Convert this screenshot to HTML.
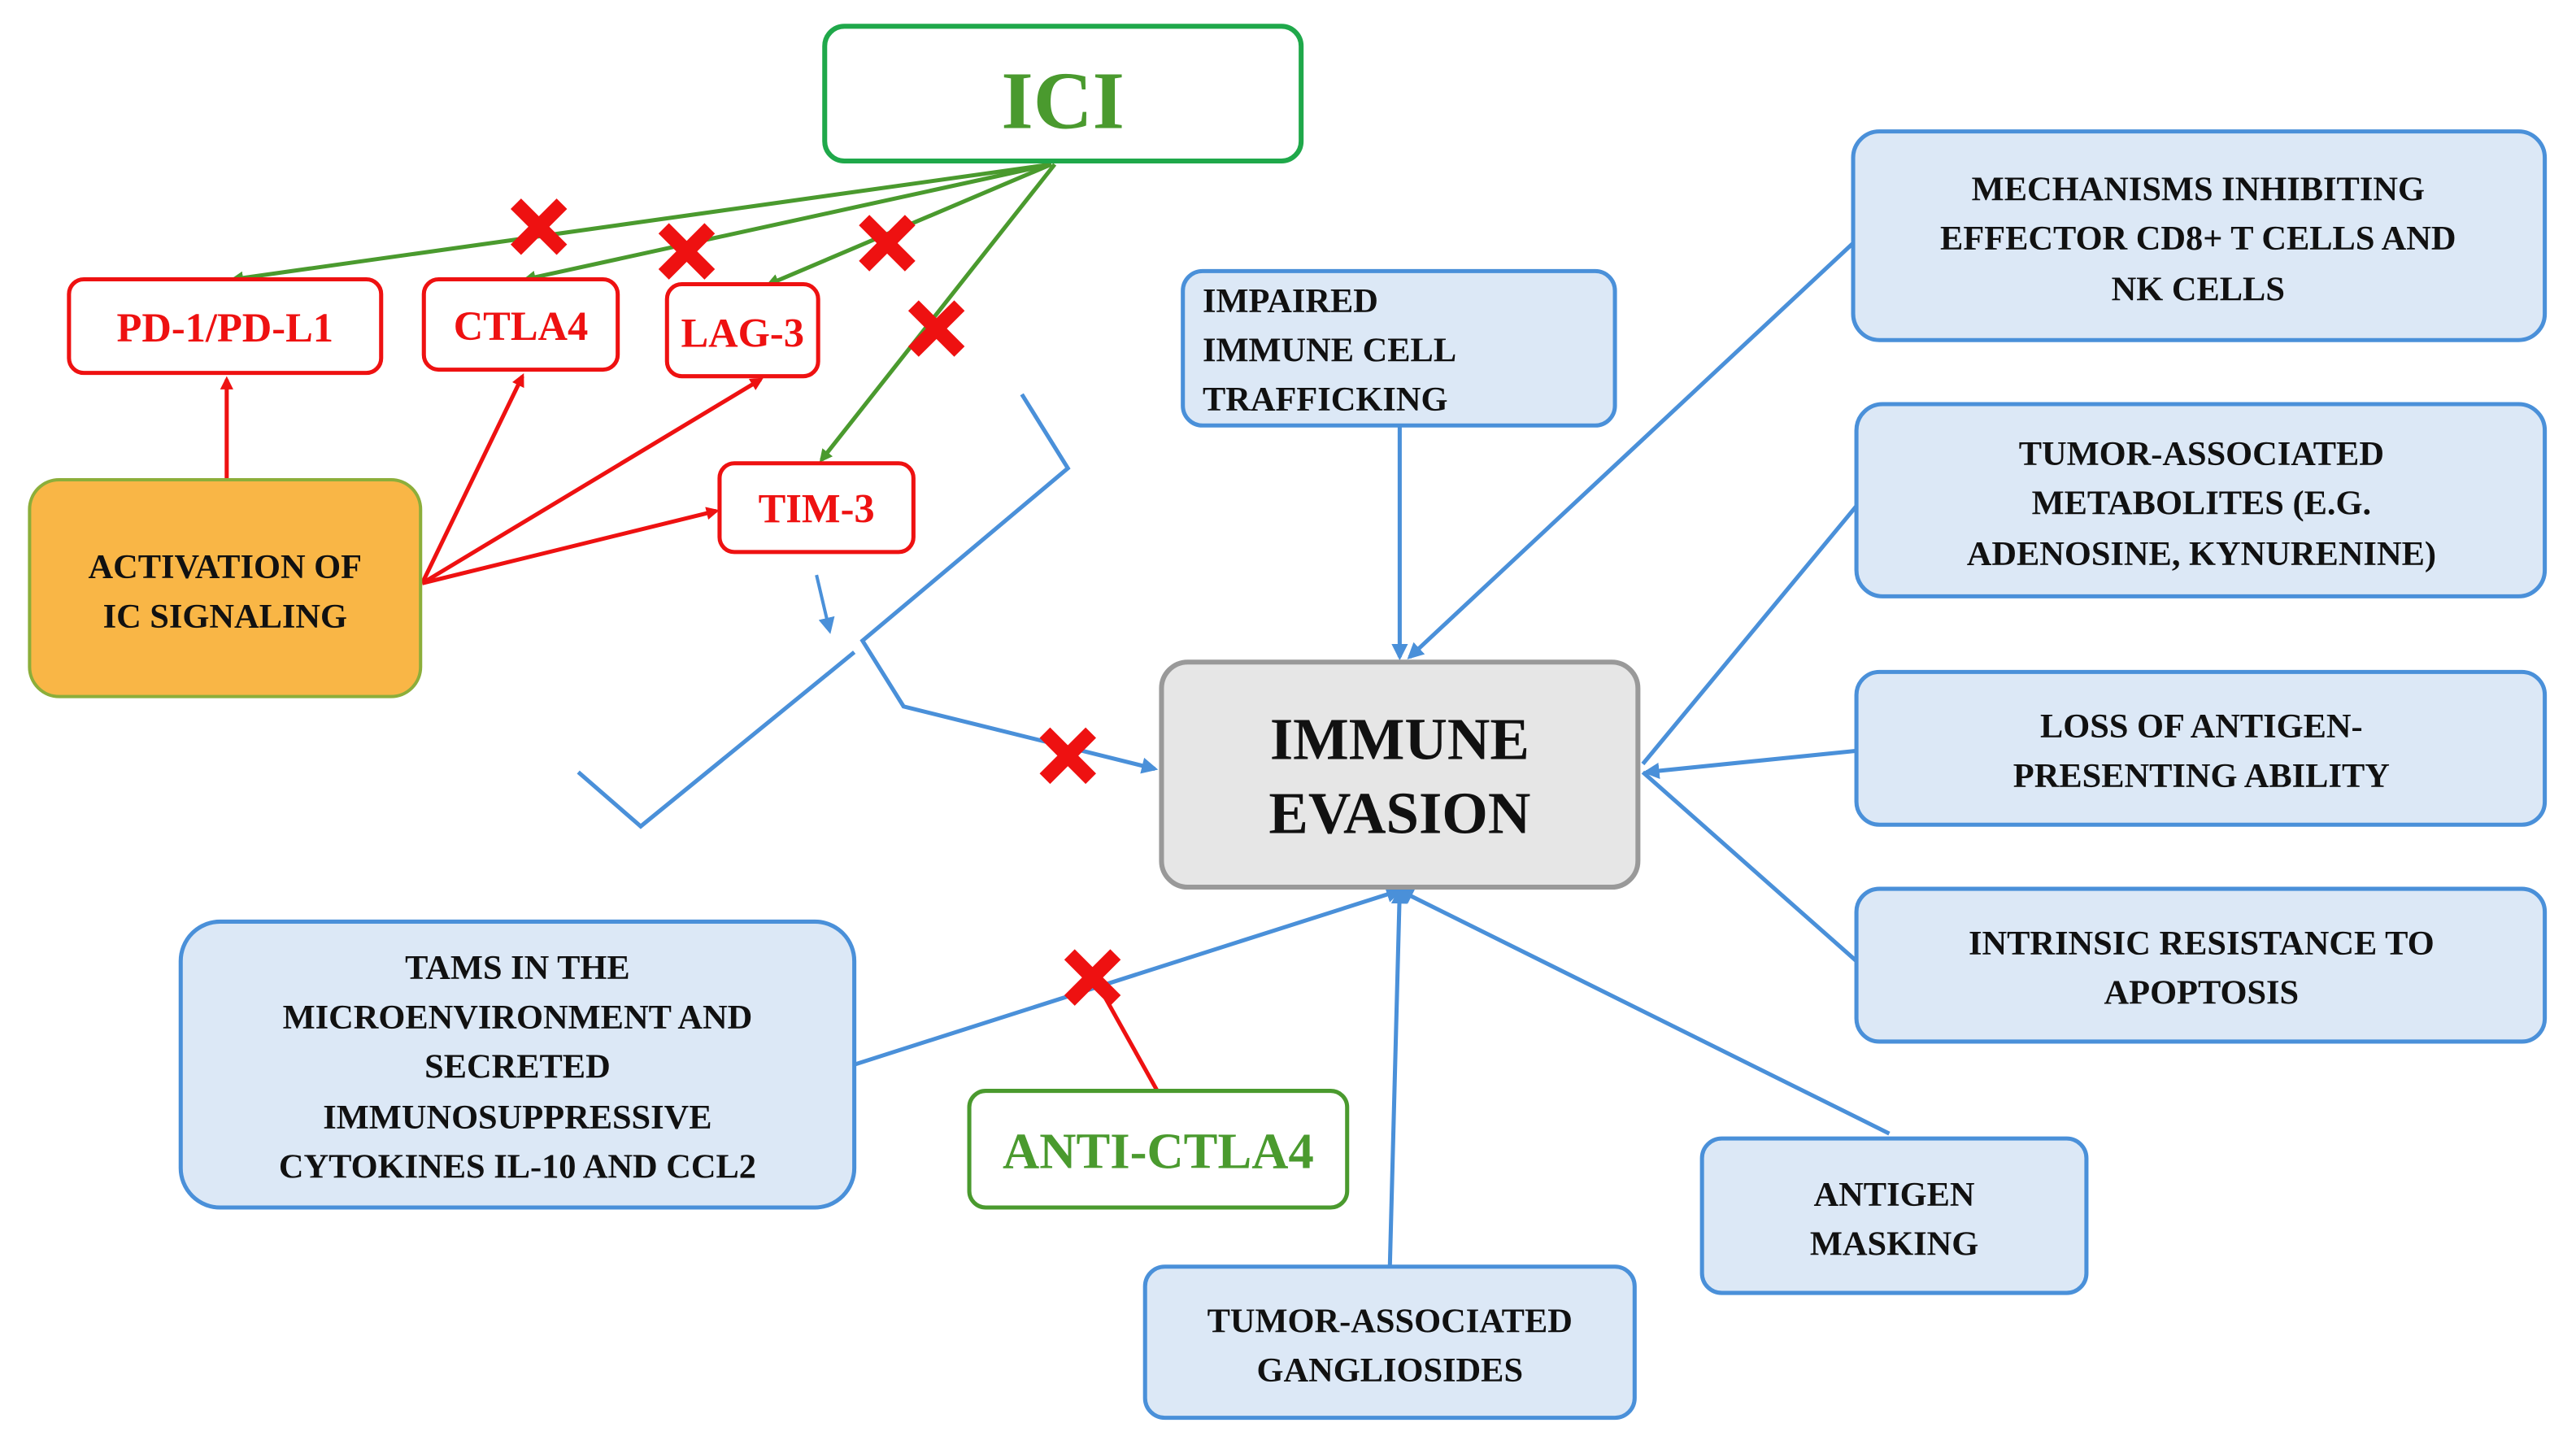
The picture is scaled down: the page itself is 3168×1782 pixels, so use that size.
<!DOCTYPE html>
<html><head><meta charset="utf-8"><style>
html,body{margin:0;padding:0;background:#fff;}
svg{display:block;}
text{font-family:"Liberation Serif",serif;font-weight:bold;}
</style></head><body>
<svg width="3168" height="1782" viewBox="0 0 1568 882" xmlns="http://www.w3.org/2000/svg">
<defs>
<marker id="ag" markerWidth="8" markerHeight="8" refX="6" refY="4" orient="auto" markerUnits="userSpaceOnUse"><path d="M0,0 L8,4 L0,8 z" fill="#4a9a2e"/></marker>
<marker id="ar" markerWidth="8" markerHeight="8" refX="6" refY="4" orient="auto" markerUnits="userSpaceOnUse"><path d="M0,0 L8,4 L0,8 z" fill="#ee1111"/></marker>
<marker id="ab" markerWidth="10" markerHeight="10" refX="8" refY="5" orient="auto" markerUnits="userSpaceOnUse"><path d="M0,0 L10,5 L0,10 z" fill="#4a90d9"/></marker>
</defs>
<g stroke="#4a90d9" stroke-width="2.5" fill="none">
<line x1="852" y1="260" x2="852" y2="400" marker-end="url(#ab)"/>
<line x1="1128" y1="148" x2="858" y2="400" marker-end="url(#ab)"/>
<line x1="1130" y1="308" x2="1000" y2="465"/>
<line x1="1130" y1="457" x2="1002" y2="470" marker-end="url(#ab)"/>
<line x1="1130" y1="585" x2="1000" y2="470"/>
<line x1="1150" y1="690" x2="852" y2="542" marker-end="url(#ab)"/>
<line x1="846" y1="771" x2="852" y2="542" marker-end="url(#ab)"/>
<line x1="520" y1="648" x2="852" y2="542" marker-end="url(#ab)"/>
<polyline points="622,240 650,285 525,390 550,430 703,468" marker-end="url(#ab)"/>
<polyline points="520,397 390,503 352,470"/>
<line x1="497" y1="350" x2="505" y2="384" stroke-width="2" marker-end="url(#ab)"/>
</g>
<g stroke="#4a9a2e" stroke-width="2.5" fill="none">
<line x1="640" y1="100" x2="142" y2="170" marker-end="url(#ag)"/>
<line x1="640" y1="100" x2="320" y2="170" marker-end="url(#ag)"/>
<line x1="640" y1="100" x2="468" y2="173" marker-end="url(#ag)"/>
<line x1="642" y1="100" x2="500" y2="280" marker-end="url(#ag)"/>
</g>
<g stroke="#ee1111" stroke-width="2.5" fill="none">
<line x1="138" y1="292" x2="138" y2="231" marker-end="url(#ar)"/>
<line x1="257" y1="355" x2="318" y2="229" marker-end="url(#ar)"/>
<line x1="257" y1="355" x2="463" y2="231" marker-end="url(#ar)"/>
<line x1="257" y1="355" x2="436" y2="311" marker-end="url(#ar)"/>
<line x1="705" y1="665" x2="667" y2="597"/>
</g>
<g stroke="#ee1111" stroke-width="9" stroke-linecap="butt">
<path d="M314,124 L342,152 M342,124 L314,152"/>
<path d="M404,139 L432,167 M432,139 L404,167"/>
<path d="M526,134 L554,162 M554,134 L526,162"/>
<path d="M556,186 L584,214 M584,186 L556,214"/>
<path d="M636,446 L664,474 M664,446 L636,474"/>
<path d="M651,581 L679,609 M679,581 L651,609"/>
</g>
<rect x="502" y="16" width="290" height="82" rx="12" fill="#fff" stroke="#1fa84a" stroke-width="3"/>
<text x="647" y="78" text-anchor="middle" font-size="50" fill="#4a9a2e">ICI</text>
<g fill="#fff" stroke="#ee1111" stroke-width="2.5">
<rect x="42" y="170" width="190" height="57" rx="9"/>
<rect x="258" y="170" width="118" height="55" rx="9"/>
<rect x="406" y="173" width="92" height="56" rx="9"/>
<rect x="438" y="282" width="118" height="54" rx="9"/>
</g>
<g fill="#ee1111" font-size="25" text-anchor="middle">
<text x="137" y="208">PD-1/PD-L1</text>
<text x="317" y="207">CTLA4</text>
<text x="452" y="211">LAG-3</text>
<text x="497" y="318">TIM-3</text>
</g>
<rect x="18" y="292" width="238" height="132" rx="18" fill="#f9b646" stroke="#8cae3a" stroke-width="2"/>
<g font-size="21" text-anchor="middle" fill="#111">
<text x="137" y="352">ACTIVATION OF</text>
<text x="137" y="382">IC SIGNALING</text>
</g>
<g fill="#dce8f6" stroke="#4a90d9" stroke-width="2.5">
<rect x="720" y="165" width="263" height="94" rx="12"/>
<rect x="1128" y="80" width="421" height="127" rx="16"/>
<rect x="1130" y="246" width="419" height="117" rx="16"/>
<rect x="1130" y="409" width="419" height="93" rx="14"/>
<rect x="1130" y="541" width="419" height="93" rx="14"/>
<rect x="1036" y="693" width="234" height="94" rx="12"/>
<rect x="697" y="771" width="298" height="92" rx="12"/>
<rect x="110" y="561" width="410" height="174" rx="24"/>
</g>
<rect x="707" y="403" width="290" height="137" rx="16" fill="#e6e6e6" stroke="#999" stroke-width="3"/>
<g font-size="36" text-anchor="middle" fill="#111">
<text x="852" y="462">IMMUNE</text>
<text x="852" y="507">EVASION</text>
</g>
<rect x="590" y="664" width="230" height="71" rx="10" fill="#fff" stroke="#4a9a2e" stroke-width="2.5"/>
<text x="705" y="711" text-anchor="middle" font-size="31" fill="#4a9a2e">ANTI-CTLA4</text>
<g font-size="21" fill="#111">
<text x="732" y="190">IMPAIRED</text>
<text x="732" y="220">IMMUNE CELL</text>
<text x="732" y="250">TRAFFICKING</text>
</g>
<g font-size="21" fill="#111" text-anchor="middle">
<text x="1338" y="122">MECHANISMS INHIBITING</text>
<text x="1338" y="152">EFFECTOR CD8+ T CELLS AND</text>
<text x="1338" y="183">NK CELLS</text>
<text x="1340" y="283">TUMOR-ASSOCIATED</text>
<text x="1340" y="313">METABOLITES (E.G.</text>
<text x="1340" y="344">ADENOSINE, KYNURENINE)</text>
<text x="1340" y="449">LOSS OF ANTIGEN-</text>
<text x="1340" y="479">PRESENTING ABILITY</text>
<text x="1340" y="581">INTRINSIC RESISTANCE TO</text>
<text x="1340" y="611">APOPTOSIS</text>
<text x="1153" y="734">ANTIGEN</text>
<text x="1153" y="764">MASKING</text>
<text x="846" y="811">TUMOR-ASSOCIATED</text>
<text x="846" y="841">GANGLIOSIDES</text>
<text x="315" y="596">TAMS IN THE</text>
<text x="315" y="626">MICROENVIRONMENT AND</text>
<text x="315" y="656">SECRETED</text>
<text x="315" y="687">IMMUNOSUPPRESSIVE</text>
<text x="315" y="717">CYTOKINES IL-10 AND CCL2</text>
</g>
</svg>
</body></html>
